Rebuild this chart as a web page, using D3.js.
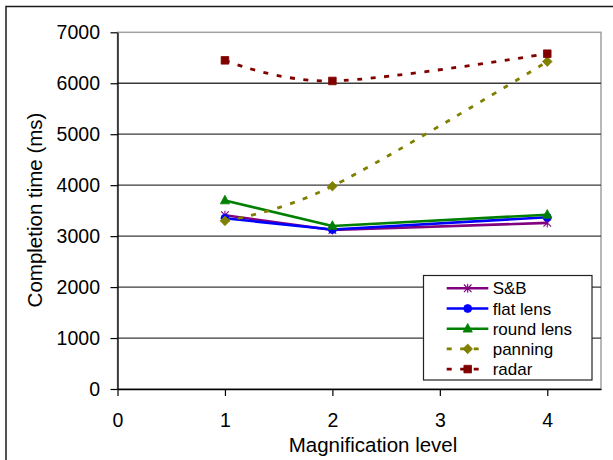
<!DOCTYPE html>
<html>
<head>
<meta charset="utf-8">
<script src="https://cdn.jsdelivr.net/npm/d3@7"></script>
<style>
  body { margin: 0; background: #fff; }
  svg { display: block; font-family: "Liberation Sans", Arial, sans-serif; }
</style>
</head>
<body>
<div id="chart"></div>
<script>
// data
const levels = [1, 2, 4];
const sbTimes = [3410, 3120, 3260];
const flatLensTimes = [3350, 3130, 3370];
const roundLensTimes = [3700, 3200, 3420];
const panningTimes = [3300, 3980, 6425];
const radarTimes = [6450, 6045, 6580];

const xTicks = [0, 1, 2, 3, 4];
const yTicks = [0, 1000, 2000, 3000, 4000, 5000, 6000, 7000];
const seriesNames = ["S&B", "flat lens", "round lens", "panning", "radar"];

const width = 613, height = 460;
const plot = { left: 117.5, top: 32.3, right: 601, bottom: 389 };

const series = [
    { name: seriesNames[0], values: sbTimes, color: "#800080", symbol: "star", dotted: false },
    { name: seriesNames[1], values: flatLensTimes, color: "#0000ff", symbol: "circle", dotted: false },
    { name: seriesNames[2], values: roundLensTimes, color: "#008000", symbol: "triangle", dotted: false },
    { name: seriesNames[3], values: panningTimes, color: "#808000", symbol: "diamond", dotted: true },
    { name: seriesNames[4], values: radarTimes, color: "#800000", symbol: "square", dotted: true }
];

const svg = d3.select("#chart").append("svg")
    .attr("width", width)
    .attr("height", height);

// outer chart frame
svg.append("rect")
    .attr("x", 6).attr("y", 6.5)
    .attr("width", 700).attr("height", 600)
    .attr("fill", "none")
    .attr("stroke", "#1a1a1a")
    .attr("stroke-width", 1.5);

const x = d3.scaleLinear().domain([0, 4.5]).range([plot.left, plot.right]);
const y = d3.scaleLinear().domain([0, 7000]).range([plot.bottom, plot.top]);

// plot area border (grey top/right)
svg.append("rect")
    .attr("x", plot.left).attr("y", plot.top)
    .attr("width", plot.right - plot.left)
    .attr("height", plot.bottom - plot.top)
    .attr("fill", "none")
    .attr("stroke", "#a0a0a0")
    .attr("stroke-width", 1.5);

// gridlines
svg.append("g")
    .selectAll("line")
    .data(yTicks.filter(d => d > 0 && d < 7000))
    .join("line")
    .attr("x1", plot.left).attr("x2", plot.right)
    .attr("y1", d => y(d)).attr("y2", d => y(d))
    .attr("stroke", "#3a3a3a")
    .attr("stroke-width", 1.3);

const yAxis = g => g
    .attr("transform", `translate(${plot.left},0)`)
    .call(d3.axisLeft(y).tickValues(yTicks).tickFormat(d3.format("d"))
        .tickSize(7).tickSizeOuter(0).tickPadding(10.5))
    .call(g => g.selectAll("line").attr("stroke", "#000").attr("stroke-width", 1.2))
    .call(g => g.select(".domain").attr("stroke", "#000").attr("stroke-width", 1.3))
    .call(g => g.selectAll("text").attr("font-size", 19.5).attr("fill", "#000"));

const xAxis = g => g
    .attr("transform", `translate(0,${plot.bottom})`)
    .call(d3.axisBottom(x).tickValues(xTicks).tickFormat(d3.format("d"))
        .tickSize(7).tickSizeOuter(0).tickPadding(17))
    .call(g => g.selectAll("line").attr("stroke", "#000").attr("stroke-width", 1.2))
    .call(g => g.select(".domain").attr("stroke", "#000").attr("stroke-width", 1.3))
    .call(g => g.selectAll("text").attr("font-size", 19.5).attr("fill", "#000"));

svg.append("g").call(yAxis);
svg.append("g").call(xAxis);

svg.selectAll(".tick text").attr("font-family", "Liberation Sans, Arial, sans-serif");

// axis titles
svg.append("text")
    .attr("x", 373).attr("y", 451.5)
    .attr("text-anchor", "middle")
    .attr("font-size", 20.5)
    .text("Magnification level");

svg.append("text")
    .attr("transform", "translate(41.5,210) rotate(-90)")
    .attr("text-anchor", "middle")
    .attr("font-size", 20.5)
    .text("Completion time (ms)");

// marker shapes
function markerPath(symbol) {
    switch (symbol) {
        case "star": return "M-3.8,-3.8L3.8,3.8M-3.8,3.8L3.8,-3.8M0,-4.5L0,4.5";
        case "circle": return d3.symbol(d3.symbolCircle, 50)();
        case "triangle": return "M0,-5.2L4.6,3.4L-4.6,3.4Z";
        case "diamond": return "M0,-4.8L4.8,0L0,4.8L-4.8,0Z";
        case "square": return "M-3.8,-3.8L3.8,-3.8L3.8,3.8L-3.8,3.8Z";
    }
}

function drawMarker(sel, s) {
    sel.attr("d", markerPath(s.symbol))
        .attr("fill", s.symbol === "star" ? "none" : s.color)
        .attr("stroke", s.color)
        .attr("stroke-width", s.symbol === "star" ? 1.1 : 0.8);
}

const straight = d3.line().x((d, i) => x(levels[i])).y(d => y(d));
const smooth = d3.line().x((d, i) => x(levels[i])).y(d => y(d)).curve(d3.curveCardinal.tension(0));

series.forEach(s => {
    const g = svg.append("g");
    g.append("path")
        .datum(s.values)
        .attr("fill", "none")
        .attr("stroke", s.color)
        .attr("stroke-width", s.dotted ? 2.8 : 2.6)
        .attr("stroke-dasharray", s.dotted ? "5,8.5" : null)
        .attr("stroke-linejoin", "round")
        .attr("d", s.dotted ? smooth(s.values) : straight(s.values));

    g.selectAll("path.mark")
        .data(s.values)
        .join("path")
        .attr("class", "mark")
        .attr("transform", (d, i) => `translate(${x(levels[i])},${y(d)})`)
        .each(function () { drawMarker(d3.select(this), s); });
});

// legend
const legend = svg.append("g").attr("transform", "translate(423.5,275.5)");
legend.append("rect")
    .attr("width", 168.5).attr("height", 104.5)
    .attr("fill", "#fff")
    .attr("stroke", "#222")
    .attr("stroke-width", 1.2);

series.forEach((s, i) => {
    const row = legend.append("g").attr("transform", `translate(0,${12.8 + i * 20.2})`);
    row.append("line")
        .attr("x1", 23.2).attr("x2", s.dotted ? 56 : 64.8)
        .attr("stroke", s.color)
        .attr("stroke-width", s.dotted ? 2.8 : 2.6)
        .attr("stroke-dasharray", s.dotted ? "5,8.5" : null);
    row.append("path")
        .attr("transform", "translate(44.2,0)")
        .call(sel => drawMarker(sel, s));
    row.append("text")
        .attr("x", 69.2).attr("dy", "0.36em")
        .attr("font-size", 17)
        .text(s.name);
});
</script>
</body>
</html>
